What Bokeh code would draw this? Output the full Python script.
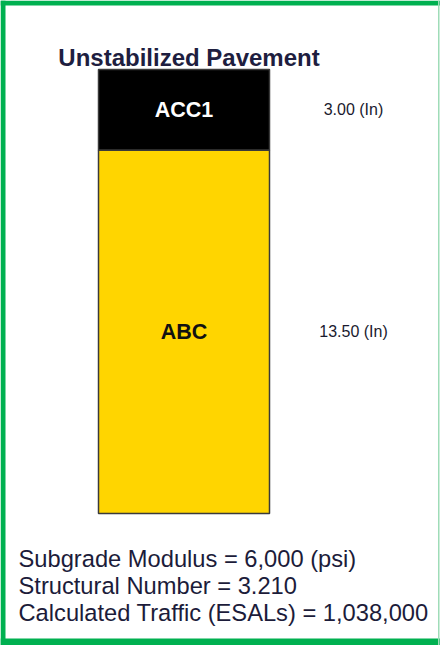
from bokeh.plotting import figure
from bokeh.models import Range1d
from bokeh.core.properties import value
from bokeh.embed import file_html
from bokeh.resources import INLINE
import numpy as np

# ---- data ----
title = "Unstabilized Pavement"
layers = ["ACC1", "ABC"]
thickness = [3.00, 13.50]          # inches
layer_colors = ["#000000", "#FFD500"]
label_colors = ["#FFFFFF", "#111111"]
value_labels = ["%.2f (In)" % t for t in thickness]
summary = [
    "Subgrade Modulus = 6,000 (psi)",
    "Structural Number = 3.210",
    "Calculated Traffic (ESALs) = 1,038,000",
]

W, H = 440, 645
FONT = value("Liberation Sans")

p = figure(width=W, height=H, output_backend="svg", toolbar_location=None,
           x_range=Range1d(0, W), y_range=Range1d(H, 0),
           x_axis_type=None, y_axis_type=None,
           min_border=0, outline_line_color=None,
           border_fill_color="white", background_fill_color="white")
p.grid.visible = False

# depth scale (inches) for the pavement column
p.extra_y_ranges = {"depth": Range1d(start=21.40, end=-2.56)}

top = np.concatenate([[0.0], np.cumsum(thickness)[:-1]])
bottom = np.cumsum(thickness)
mid = (top + bottom) / 2.0

col_left, col_right = 98, 269
p.quad(left=col_left, right=col_right, top=top, bottom=bottom,
       fill_color=layer_colors, line_color="#3a3a3a", line_width=1.5,
       y_range_name="depth")

cx = (col_left + col_right) / 2.0
p.text(x=[cx] * len(layers), y=mid, text=layers, text_color=label_colors,
       text_font=FONT, text_font_style="bold", text_font_size="21.5px",
       text_align="center", text_baseline="middle", y_range_name="depth")

p.text(x=[353] * len(layers), y=mid, text=value_labels, text_color="#1a1a2e",
       text_font=FONT, text_font_size="16px",
       text_align="center", text_baseline="middle", y_range_name="depth")

# title
p.text(x=[188.5], y=[57], text=[title], text_color="#1e1e40",
       text_font=FONT, text_font_style="bold", text_font_size="24px",
       text_align="center", text_baseline="alphabetic")

# summary lines
p.text(x=[18] * 3, y=[558.7, 585.3, 612], text=summary, text_color="#1c1c3a",
       text_font=FONT, text_font_size="23.7px",
       text_align="left", text_baseline="alphabetic")

# green frame
green = "#00B050"
p.quad(left=[0, 0, 0], right=[5, W, W], top=[0, 0, 638], bottom=[H, 5, H],
       fill_color=green, line_color=None)
p.quad(left=[437.5], right=[439], top=[0], bottom=[H],
       fill_color="#9fdcb8", line_color=None)

open("out.html", "w").write(file_html(p, INLINE))
